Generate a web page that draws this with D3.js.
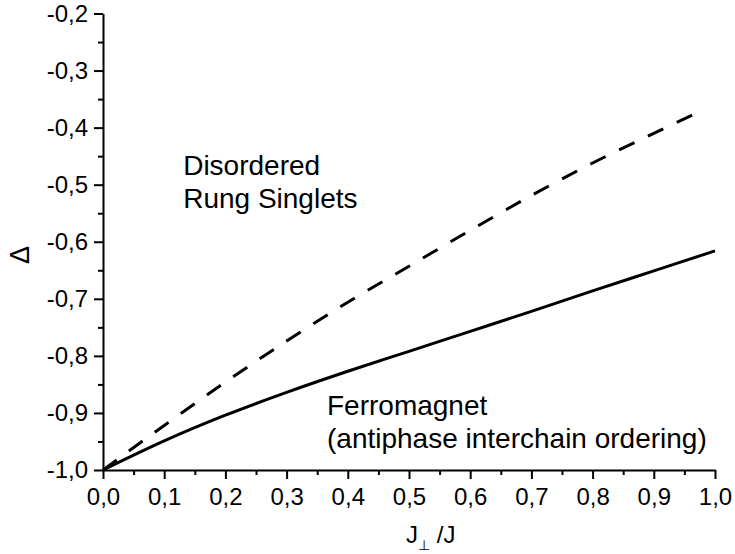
<!DOCTYPE html>
<html>
<head>
<meta charset="utf-8">
<script src="https://cdnjs.cloudflare.com/ajax/libs/d3/7.8.5/d3.min.js"></script>
<style>
  html, body { margin: 0; padding: 0; background: #fff; }
  svg text { font-family: "Liberation Sans", Arial, sans-serif; fill: #000; }
</style>
</head>
<body>
<svg id="chart" width="735" height="554"></svg>
<script>
// Data
const solidX = [0.0, 0.1, 0.2, 0.3, 0.4, 0.5, 0.6, 0.7, 0.8, 0.9, 1.0];
const solidY = [-1.0, -0.949, -0.904, -0.864, -0.827, -0.792, -0.757, -0.722, -0.686, -0.651, -0.616];
const dashedX = [0.0, 0.1, 0.2, 0.3, 0.4, 0.5, 0.6, 0.7, 0.8, 0.9, 0.975];
const dashedY = [-1.0, -0.922, -0.846, -0.774, -0.706, -0.643, -0.580, -0.519, -0.462, -0.410, -0.372];
const xTicks = [0.0, 0.1, 0.2, 0.3, 0.4, 0.5, 0.6, 0.7, 0.8, 0.9, 1.0];
const yTicks = [-1.0, -0.9, -0.8, -0.7, -0.6, -0.5, -0.4, -0.3, -0.2];
const xMinor = [0.05, 0.15, 0.25, 0.35, 0.45, 0.55, 0.65, 0.75, 0.85, 0.95];
const yMinor = [-0.95, -0.85, -0.75, -0.65, -0.55, -0.45, -0.35, -0.25];
const regionLabels = [
  { lines: ["Disordered", "Rung Singlets"], x: 0.131, y: -0.483 },
  { lines: ["Ferromagnet", "(antiphase interchain ordering)"], x: 0.366, y: -0.904 }
];

const svg = d3.select("#chart");
const x = d3.scaleLinear().domain([0, 1]).range([103, 715]);
const y = d3.scaleLinear().domain([-1, -0.2]).range([470, 13.5]);
const fmt = d => d3.format(".1f")(d).replace(".", ",").replace("−", "-");

// axes
const xAxis = d3.axisBottom(x).tickValues(xTicks).tickSize(9).tickPadding(9).tickFormat(fmt).tickSizeOuter(0);
const yAxis = d3.axisLeft(y).tickValues(yTicks).tickSize(9).tickPadding(6).tickFormat(fmt).tickSizeOuter(0);

const gx = svg.append("g").attr("transform", "translate(0,470)").call(xAxis);
const gy = svg.append("g").attr("transform", "translate(103,0)").call(yAxis);
[gx, gy].forEach(g => {
  g.select(".domain").attr("stroke", "#000").attr("stroke-width", 2);
  g.selectAll(".tick line").attr("stroke", "#000").attr("stroke-width", 2);
  g.selectAll(".tick text").style("font-size", "24px").attr("fill", "#000");
});
svg.append("g").attr("transform", "translate(0,470)").call(
  d3.axisBottom(x).tickValues(xMinor).tickSize(5).tickFormat("")).call(g => {
    g.select(".domain").remove();
    g.selectAll("line").attr("stroke", "#000").attr("stroke-width", 2);
  });
svg.append("g").attr("transform", "translate(103,0)").call(
  d3.axisLeft(y).tickValues(yMinor).tickSize(5).tickFormat("")).call(g => {
    g.select(".domain").remove();
    g.selectAll("line").attr("stroke", "#000").attr("stroke-width", 2);
  });

// lines
const line = d3.line().x(d => x(d[0])).y(d => y(d[1])).curve(d3.curveMonotoneX);
svg.append("path").datum(solidX.map((v, i) => [v, solidY[i]]))
  .attr("d", line).attr("fill", "none").attr("stroke", "#000").attr("stroke-width", 3);
svg.append("path").datum(dashedX.map((v, i) => [v, dashedY[i]]))
  .attr("d", line).attr("fill", "none").attr("stroke", "#000").attr("stroke-width", 3)
  .attr("stroke-dasharray", "17,15");

// region labels
regionLabels.forEach(r => {
  const t = svg.append("text").attr("x", x(r.x)).attr("y", y(r.y)).style("font-size", "28px");
  r.lines.forEach((s, i) => t.append("tspan").attr("x", x(r.x)).attr("dy", i === 0 ? 0 : 33).text(s));
});

// axis titles
svg.append("text").attr("transform", "translate(29,255) rotate(-90)")
  .attr("text-anchor", "middle").style("font-size", "27px").text("Δ");
const xt = svg.append("text").attr("x", 406).attr("y", 543).style("font-size", "24px");
xt.append("tspan").text("J");
xt.append("tspan").attr("dy", 7).style("font-size", "14px")
  .style("font-family", "'DejaVu Sans', sans-serif").style("fill", "#000").text("⊥");
xt.append("tspan").attr("dy", -7).text(" /J");
</script>
</body>
</html>
